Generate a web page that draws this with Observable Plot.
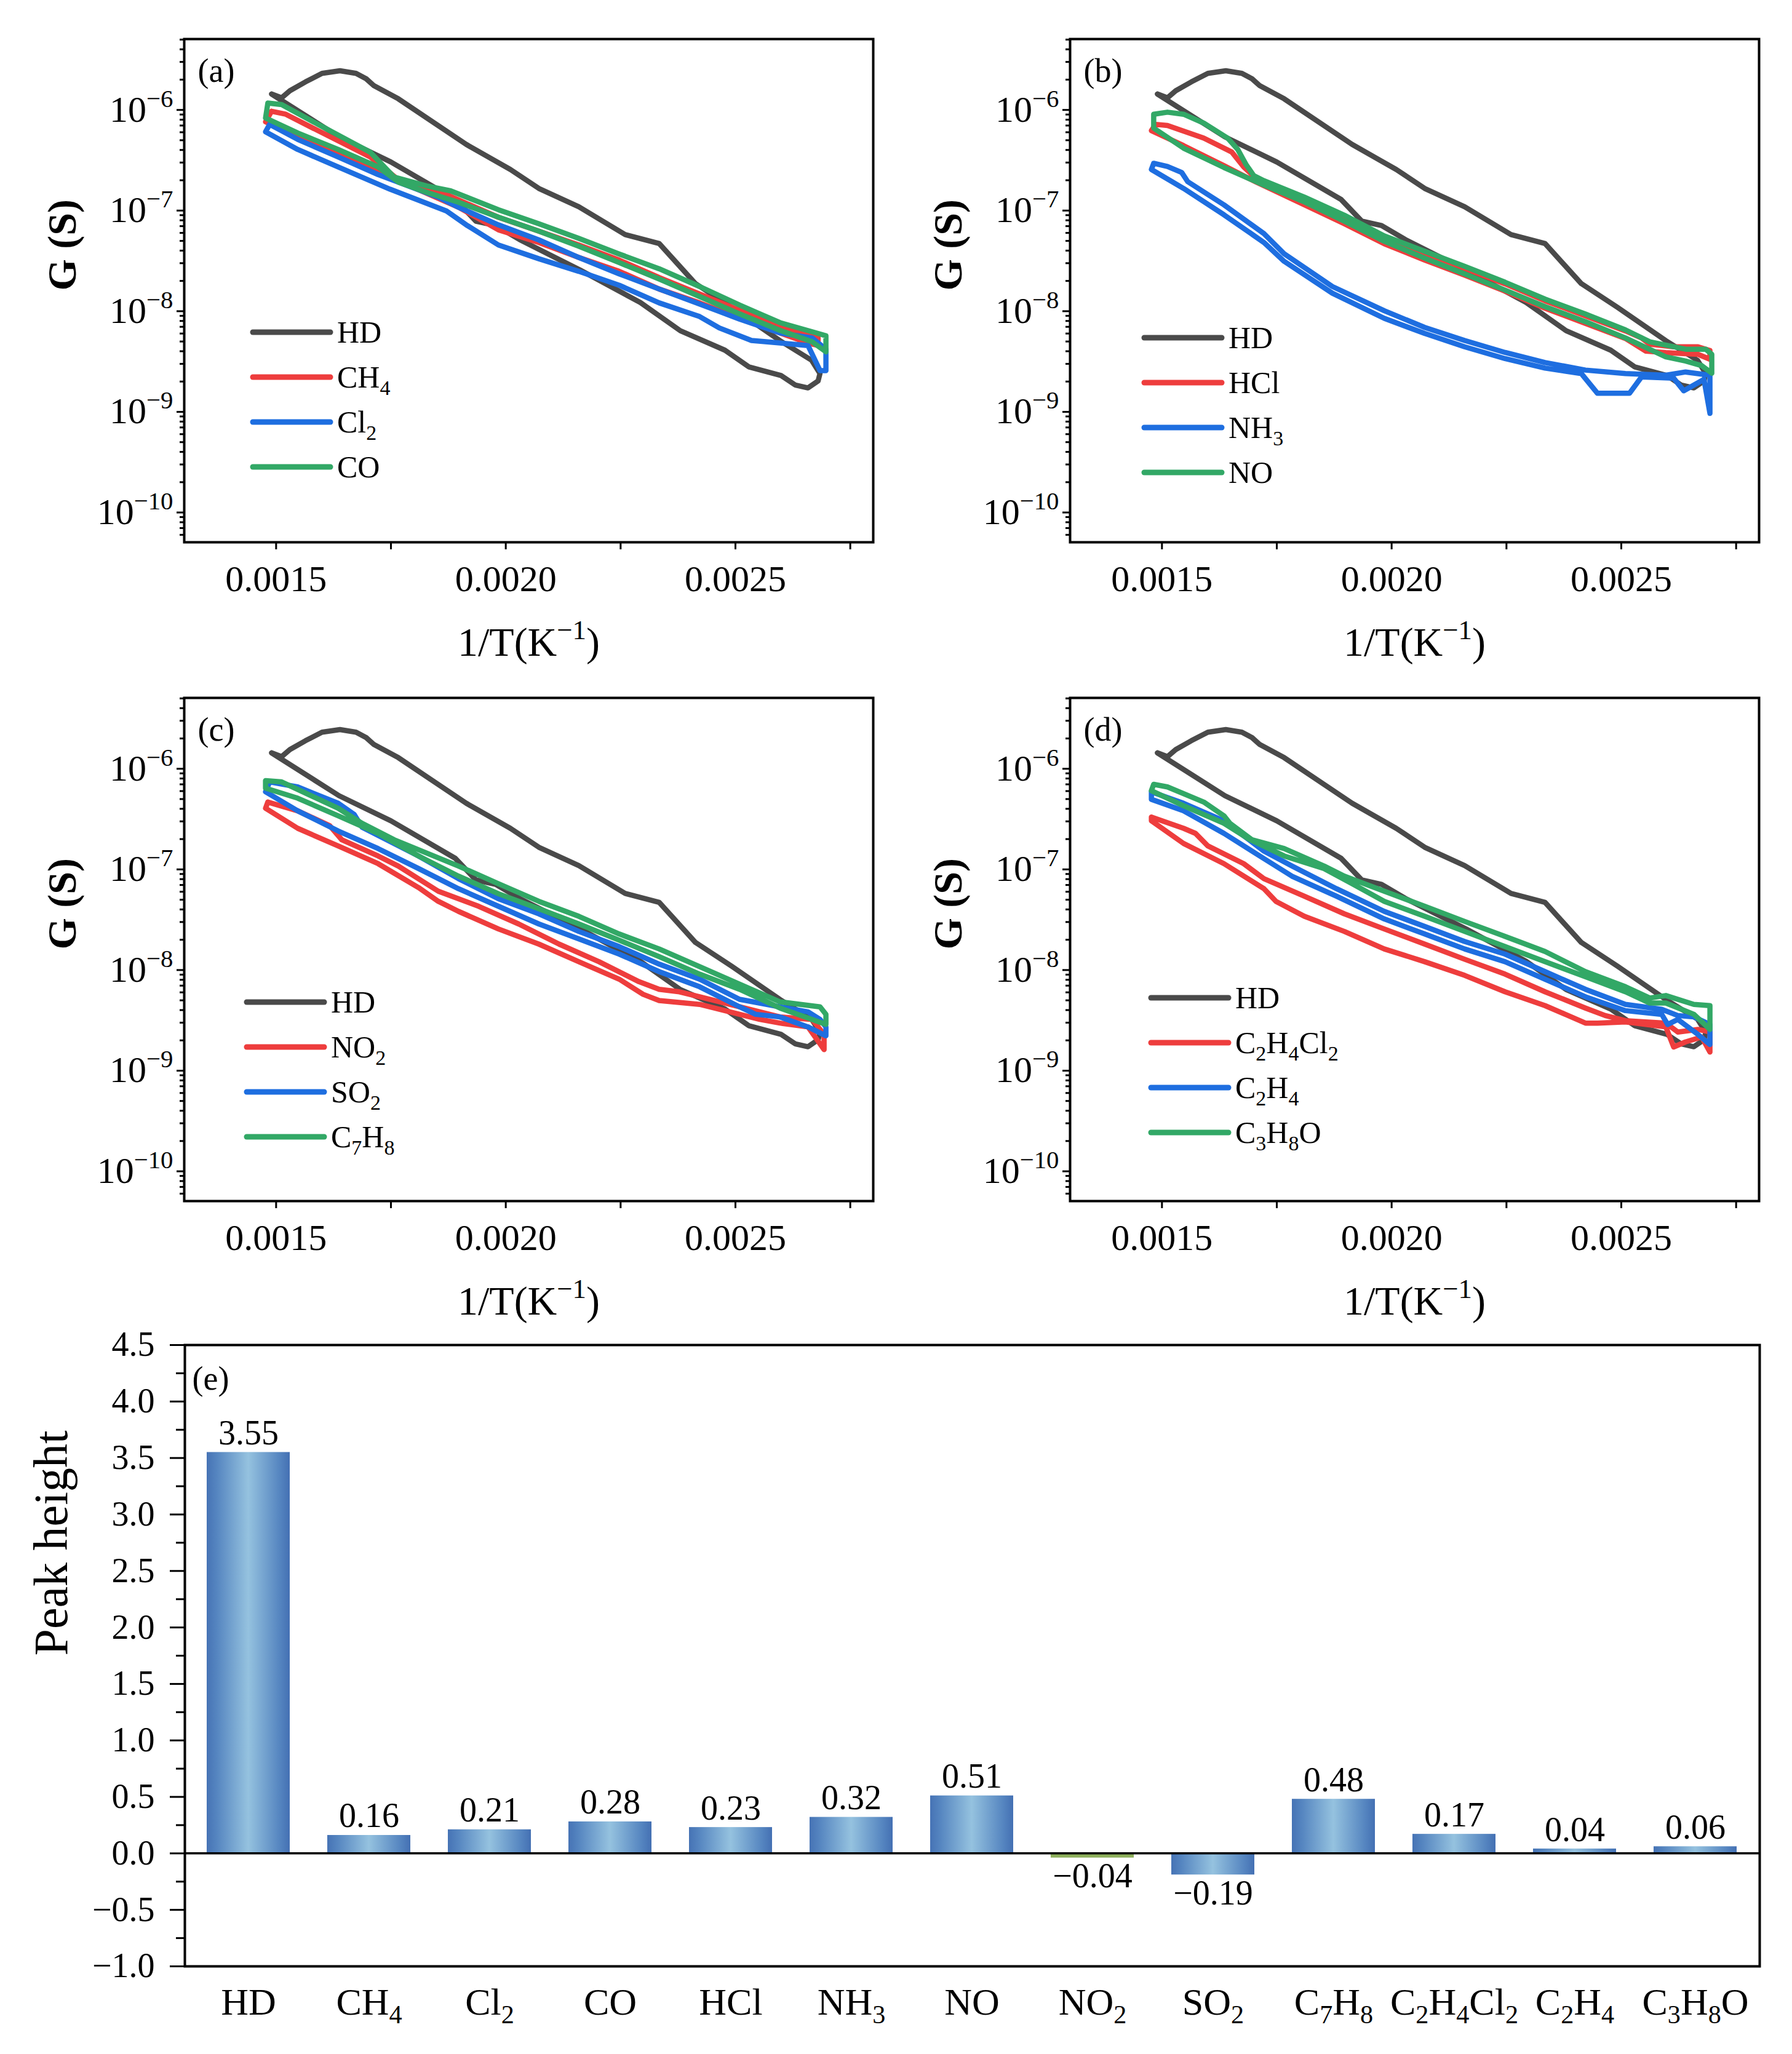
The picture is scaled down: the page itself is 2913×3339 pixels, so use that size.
<!DOCTYPE html>
<html>
<head>
<meta charset="utf-8">
<script src="https://cdn.jsdelivr.net/npm/d3@7"></script>
<script src="https://cdn.jsdelivr.net/npm/@observablehq/plot@0.6"></script>
<style>
html, body { margin: 0; padding: 0; background: #fff; }
#root { position: relative; width: 2913px; height: 3339px; background: #fff; overflow: hidden; }
#root > svg { position: absolute; }
#root [aria-label$="axis tick"] path, #root [aria-label$="axis tick"] line { stroke-width: 3px; }
</style>
</head>
<body>
<div id="root"></div>
<script>
// ---------------- DATA ----------------
// HD (same reference curve in panels a-d)
const HD_invT = [0.001490,0.001512,0.001530,0.001564,0.001600,0.001639,0.001674,0.001696,0.001713,0.001766,0.001914,0.002010,0.002072,0.002159,0.002260,0.002334,0.002413,0.002492,0.002597,0.002666,0.002684,0.002680,0.002658,0.002630,0.002599,0.002529,0.002477,0.002380,0.002293,0.002162,0.002030,0.001978,0.001935,0.001890,0.001750,0.001637,0.001490];
const HD_G = [1.44e-6,1.32e-6,1.55e-6,1.90e-6,2.31e-6,2.45e-6,2.31e-6,2.04e-6,1.74e-6,1.29e-6,4.54e-7,2.56e-7,1.66e-7,1.09e-7,5.77e-8,4.70e-8,1.88e-8,1.09e-8,5.1e-9,3.25e-9,2.4e-9,2.03e-9,1.73e-9,1.85e-9,2.3e-9,2.8e-9,4.1e-9,6.4e-9,1.22e-8,2.56e-8,5.15e-8,7.1e-8,7.85e-8,1.29e-7,3.04e-7,5.4e-7,1.44e-6];

// panel (a)
const CH4_invT = [0.001490,0.001521,0.001591,0.001705,0.001766,0.001871,0.001984,0.002072,0.002159,0.002247,0.002334,0.002422,0.002509,0.002597,0.002658,0.002680, 0.002680,0.002658,0.002597,0.002509,0.002422,0.002334,0.002247,0.002159,0.002072,0.001984,0.001897,0.001810,0.001722,0.001635,0.001547,0.001477,0.001490];
const CH4_G = [9.7e-7,9.06e-7,6.23e-7,3.41e-7,2.03e-7,1.44e-7,8.57e-8,6.25e-8,4.55e-8,3.22e-8,2.16e-8,1.48e-8,1.02e-8,7.23e-9,5.74e-9,5.42e-9, 4.56e-9,4.83e-9,6.08e-9,8.59e-9,1.21e-8,1.66e-8,2.49e-8,3.42e-8,4.82e-8,6.43e-8,1.08e-7,1.61e-7,2.41e-7,3.61e-7,5.40e-7,7.62e-7,9.7e-7];
const Cl2_invT = [0.001486,0.001547,0.001635,0.001722,0.001853,0.001897,0.001984,0.002072,0.002159,0.002247,0.002334,0.002422,0.002509,0.002597,0.002667,0.002697, 0.002697,0.002684,0.002658,0.002597,0.002535,0.002465,0.002422,0.002334,0.002247,0.002159,0.002072,0.001984,0.001914,0.001871,0.001748,0.001635,0.001547,0.001477,0.001486];
const Cl2_G = [7.19e-7,5.10e-7,3.41e-7,2.28e-7,1.36e-7,1.08e-7,7.21e-8,5.11e-8,3.42e-8,2.35e-8,1.66e-8,1.18e-8,8.35e-9,6.08e-9,5.42e-9,4.19e-9, 2.57e-9,2.57e-9,4.56e-9,4.83e-9,5.12e-9,6.82e-9,8.85e-9,1.21e-8,1.81e-8,2.49e-8,3.32e-8,4.55e-8,7.21e-8,9.9e-8,1.63e-7,2.71e-7,4.05e-7,6.06e-7,7.19e-7];
const CO_invT = [0.001482,0.001512,0.001591,0.001705,0.001757,0.001827,0.001880,0.001984,0.002072,0.002159,0.002247,0.002334,0.002422,0.002509,0.002597,0.002675,0.002697, 0.002697,0.002667,0.002597,0.002509,0.002422,0.002334,0.002247,0.002159,0.002072,0.001984,0.001897,0.001827,0.001766,0.001722,0.001635,0.001547,0.001477,0.001482];
const CO_G = [1.17e-6,1.13e-6,7.2e-7,3.8e-7,2.15e-7,1.76e-7,1.57e-7,1.02e-7,7.4e-8,5.3e-8,3.7e-8,2.64e-8,1.76e-8,1.15e-8,7.7e-9,6.1e-9,5.7e-9, 3.95e-9,4.97e-9,6.45e-9,9.4e-9,1.4e-8,2.09e-8,3.04e-8,4.42e-8,6.25e-8,8.6e-8,1.21e-7,1.52e-7,1.92e-7,2.71e-7,4.05e-7,5.9e-7,8.3e-7,1.17e-6];

// panel (b)
const HCl_invT = [0.001486,0.001512,0.001591,0.001652,0.001678,0.001705,0.001810,0.001897,0.001984,0.002072,0.002159,0.002247,0.002334,0.002422,0.002509,0.002544,0.002562,0.002614,0.002667,0.002693, 0.002693,0.002667,0.002597,0.002553,0.002509,0.002422,0.002334,0.002247,0.002159,0.002072,0.001984,0.001897,0.001810,0.001705,0.001635,0.001547,0.001477,0.001486];
const HCl_G = [7.19e-7,7.0e-7,5.25e-7,3.82e-7,2.71e-7,2.09e-7,1.28e-7,8.57e-8,5.41e-8,3.79e-8,2.66e-8,1.87e-8,1.27e-8,8.99e-9,6.37e-9,5.42e-9,4.7e-9,4.43e-9,4.43e-9,4.07e-9, 3.33e-9,3.73e-9,3.88e-9,4.02e-9,5.36e-9,7.55e-9,1.07e-8,1.58e-8,2.28e-8,3.22e-8,4.68e-8,7.4e-8,1.14e-7,1.92e-7,2.79e-7,4.42e-7,6.23e-7,7.19e-7];
const NH3_invT = [0.001482,0.001512,0.001543,0.001556,0.001635,0.001722,0.001766,0.001871,0.001984,0.002072,0.002159,0.002247,0.002334,0.002422,0.002509,0.002597,0.002640,0.002693, 0.002693,0.002680,0.002636,0.002614,0.002544,0.002518,0.002448,0.002413,0.002334,0.002247,0.002159,0.002072,0.001984,0.001871,0.001766,0.001722,0.001635,0.001547,0.001477,0.001482];
const NH3_G = [2.95e-7,2.74e-7,2.39e-7,1.94e-7,1.14e-7,5.9e-8,3.72e-8,1.76e-8,1.01e-8,6.9e-9,5.12e-9,3.89e-9,3.09e-9,2.6e-9,2.40e-9,2.31e-9,2.49e-9,2.31e-9, 9.66e-10,2.10e-9,1.62e-9,2.16e-9,2.22e-9,1.53e-9,1.53e-9,2.40e-9,2.72e-9,3.38e-9,4.43e-9,6.01e-9,8.49e-9,1.51e-8,3.13e-8,4.82e-8,9.08e-8,1.66e-7,2.56e-7,2.95e-7];
const NO_invT = [0.001482,0.001512,0.001547,0.001591,0.001643,0.001665,0.001683,0.001700,0.001722,0.001810,0.001897,0.001984,0.002072,0.002159,0.002247,0.002334,0.002422,0.002509,0.002562,0.002640,0.002684,0.002697, 0.002697,0.002675,0.002640,0.002597,0.002509,0.002422,0.002334,0.002247,0.002159,0.002072,0.001984,0.001897,0.001810,0.001722,0.001635,0.001547,0.001482,0.001482];
const NO_G = [9.06e-7,9.5e-7,9.06e-7,7.4e-7,5.25e-7,4.05e-7,2.87e-7,2.22e-7,1.98e-7,1.36e-7,9.0e-8,5.6e-8,3.94e-8,2.79e-8,1.94e-8,1.32e-8,9.37e-9,6.52e-9,4.97e-9,4.19e-9,4.19e-9,3.73e-9, 2.42e-9,2.88e-9,3.2e-9,3.52e-9,5.42e-9,7.87e-9,1.11e-8,1.62e-8,2.35e-8,3.37e-8,4.96e-8,7.85e-8,1.22e-7,1.79e-7,2.68e-7,4.17e-7,6.6e-7,9.06e-7];

// panel (c)
const NO2_invT = [0.001482,0.001547,0.001617,0.001643,0.001722,0.001766,0.001853,0.001941,0.002028,0.002116,0.002203,0.002290,0.002334,0.002378,0.002422,0.002509,0.002597,0.002667,0.002693, 0.002693,0.002658,0.002597,0.002553,0.002509,0.002422,0.002334,0.002299,0.002247,0.002159,0.002072,0.001984,0.001897,0.001853,0.001810,0.001722,0.001635,0.001547,0.001477,0.001482];
const NO2_G = [4.67e-7,3.82e-7,2.71e-7,1.97e-7,1.36e-7,1.08e-7,6.07e-8,4.30e-8,2.87e-8,1.81e-8,1.21e-8,7.66e-9,6.44e-9,6.08e-9,5.42e-9,4.31e-9,3.42e-9,3.23e-9,2.29e-9, 1.62e-9,2.72e-9,2.97e-9,3.23e-9,3.63e-9,4.56e-9,4.97e-9,5.74e-9,8.11e-9,1.21e-8,1.81e-8,2.56e-8,3.83e-8,4.82e-8,6.6e-8,1.14e-7,1.71e-7,2.56e-7,4.05e-7,4.67e-7];
const SO2_invT = [0.001486,0.001547,0.001635,0.001670,0.001687,0.001810,0.001897,0.001984,0.002072,0.002159,0.002247,0.002334,0.002422,0.002509,0.002597,0.002658,0.002684,0.002697, 0.002697,0.002658,0.002597,0.002544,0.002509,0.002422,0.002334,0.002247,0.002159,0.002072,0.001984,0.001897,0.001810,0.001722,0.001635,0.001547,0.001477,0.001486];
const SO2_G = [7.4e-7,6.6e-7,4.54e-7,3.51e-7,2.63e-7,1.36e-7,8.09e-8,5.11e-8,3.62e-8,2.42e-8,1.71e-8,1.145e-8,8.11e-9,5.12e-9,4.31e-9,3.84e-9,3.23e-9,2.72e-9, 2.22e-9,2.72e-9,3.42e-9,3.63e-9,4.31e-9,6.82e-9,9.64e-9,1.44e-8,2.04e-8,2.87e-8,4.30e-8,6.43e-8,1.02e-7,1.61e-7,2.41e-7,3.82e-7,5.9e-7,7.4e-7];
const C7H8_invT = [0.001477,0.001512,0.001635,0.001687,0.001757,0.001897,0.001984,0.002072,0.002159,0.002247,0.002334,0.002422,0.002509,0.002597,0.002684,0.002697, 0.002697,0.002667,0.002597,0.002509,0.002422,0.002334,0.002247,0.002159,0.002072,0.001984,0.001897,0.001810,0.001722,0.001635,0.001547,0.001477,0.001477];
const C7H8_G = [7.62e-7,7.4e-7,4.05e-7,2.87e-7,1.97e-7,1.08e-7,7.21e-8,4.82e-8,3.42e-8,2.28e-8,1.62e-8,1.08e-8,7.23e-9,4.83e-9,4.31e-9,3.63e-9, 2.88e-9,3.23e-9,4.19e-9,6.44e-9,9.10e-9,1.36e-8,1.98e-8,2.87e-8,4.06e-8,5.73e-8,8.57e-8,1.36e-7,2.28e-7,3.41e-7,5.10e-7,6.41e-7,7.62e-7];

// panel (d)
const C2H4Cl2_invT = [0.001477,0.001547,0.001573,0.001600,0.001678,0.001722,0.001810,0.001897,0.001984,0.002072,0.002159,0.002247,0.002334,0.002422,0.002465,0.002509,0.002597,0.002623,0.002667,0.002693, 0.002693,0.002675,0.002640,0.002614,0.002597,0.002509,0.002448,0.002422,0.002378,0.002334,0.002247,0.002159,0.002072,0.001984,0.001897,0.001810,0.001748,0.001722,0.001635,0.001547,0.001477,0.001477];
const C2H4Cl2_G = [3.31e-7,2.56e-7,2.28e-7,1.71e-7,1.14e-7,8.09e-8,5.41e-8,3.62e-8,2.56e-8,1.81e-8,1.28e-8,9.10e-9,6.08e-9,4.19e-9,3.53e-9,3.14e-9,2.97e-9,2.42e-9,2.57e-9,2.42e-9, 1.53e-9,2.16e-9,1.93e-9,1.72e-9,2.72e-9,3.05e-9,2.97e-9,2.97e-9,3.63e-9,4.43e-9,6.08e-9,8.85e-9,1.21e-8,1.62e-8,2.42e-8,3.42e-8,4.82e-8,6.43e-8,1.14e-7,1.81e-7,3.04e-7,3.31e-7];
const C2H4_invT = [0.001477,0.001547,0.001635,0.001722,0.001783,0.001880,0.001984,0.002072,0.002159,0.002247,0.002334,0.002422,0.002509,0.002588,0.002623,0.002658,0.002693, 0.002693,0.002667,0.002623,0.002601,0.002588,0.002509,0.002422,0.002334,0.002247,0.002159,0.002072,0.001984,0.001880,0.001783,0.001722,0.001635,0.001547,0.001477,0.001477];
const C2H4_G = [5.9e-7,4.54e-7,3.04e-7,1.52e-7,1.08e-7,6.43e-8,3.83e-8,2.71e-8,1.92e-8,1.44e-8,9.64e-9,6.44e-9,4.56e-9,4.07e-9,3.53e-9,3.42e-9,2.88e-9, 1.82e-9,2.29e-9,3.23e-9,2.88e-9,3.63e-9,3.95e-9,5.42e-9,8.11e-9,1.21e-8,1.62e-8,2.28e-8,3.22e-8,5.41e-8,8.57e-8,1.28e-7,2.28e-7,3.82e-7,4.97e-7,5.9e-7];
const C3H8O_invT = [0.001482,0.001512,0.001591,0.001635,0.001648,0.001696,0.001766,0.001853,0.001897,0.001984,0.002072,0.002159,0.002247,0.002334,0.002422,0.002509,0.002562,0.002597,0.002658,0.002693, 0.002693,0.002658,0.002597,0.002562,0.002509,0.002422,0.002334,0.002247,0.002159,0.002072,0.001984,0.001914,0.001853,0.001766,0.001687,0.001635,0.001547,0.001477,0.001482];
const C3H8O_G = [7.0e-7,6.6e-7,4.67e-7,3.41e-7,2.87e-7,1.97e-7,1.61e-7,1.08e-7,8.57e-8,6.07e-8,4.30e-8,3.04e-8,2.16e-8,1.53e-8,9.64e-9,6.82e-9,5.27e-9,5.58e-9,4.56e-9,4.43e-9, 2.57e-9,3.63e-9,4.7e-9,4.7e-9,6.08e-9,8.59e-9,1.21e-8,1.71e-8,2.42e-8,3.42e-8,4.82e-8,7.21e-8,1.02e-7,1.36e-7,2.03e-7,2.87e-7,4.29e-7,6.06e-7,7.0e-7];

// panel (e)
const gases = ["HD","CH_{4}","Cl_{2}","CO","HCl","NH_{3}","NO","NO_{2}","SO_{2}","C_{7}H_{8}","C_{2}H_{4}Cl_{2}","C_{2}H_{4}","C_{3}H_{8}O"];
const peakHeight = [3.55,0.16,0.21,0.28,0.23,0.32,0.51,-0.04,-0.19,0.48,0.17,0.04,0.06];

// ticks
const xTicksMajor = [0.0015, 0.0020, 0.0025];
const xTicksMinor = [0.00175, 0.00225, 0.00275];
const yTicksMajor = [1e-10, 1e-9, 1e-8, 1e-7, 1e-6];
const yTickLabels = ["10^{−10}", "10^{−9}", "10^{−8}", "10^{−7}", "10^{−6}"];
const barTicksMajor = [-1, -0.5, 0, 0.5, 1, 1.5, 2, 2.5, 3, 3.5, 4, 4.5];
const barTicksMinor = [-0.75, -0.25, 0.25, 0.75, 1.25, 1.75, 2.25, 2.75, 3.25, 3.75, 4.25];

// ---------------- STYLE ----------------
const FONT = '"Liberation Serif", "Times New Roman", serif';
const C = {hd: "#4a4a4a", red: "#ee3d3d", blue: "#1e6ee0", green: "#32a866"};

const yMinor = [];
for (let e = -11; e <= -6; e++) for (let k = 2; k <= 9; k++) { const v = k * Math.pow(10, e); if (v > 5.06e-11 && v < 5.06e-6) yMinor.push(v); }

function series(name, label, invT, G, color) {
  if (invT.length !== G.length) console.warn("length mismatch", name, invT.length, G.length);
  return {name, label, color, rows: invT.map((t, i) => ({t, g: G[i]}))};
}

function legendMark(items, x0, y0) {
  return (index, scales, values, dims) => {
    const g = d3.create("svg:g");
    items.forEach((it, i) => {
      const y = dims.marginTop + y0 + i * 73;
      const x = dims.marginLeft + x0;
      g.append("line").attr("x1", x).attr("x2", x + 126).attr("y1", y).attr("y2", y)
        .attr("stroke", it.color).attr("stroke-width", 9).attr("stroke-linecap", "round");
      g.append("text").attr("x", x + 137).attr("y", y + 17).attr("font-size", 50)
        .attr("text-anchor", "start")
        .attr("font-family", FONT).attr("fill", "#000").text(it.label);
    });
    return g.node();
  };
}

function richify(root) {
  root.querySelectorAll("text").forEach(t => {
    const s = t.textContent;
    if (!/[\^_]\{/.test(s)) return;
    const fs = parseFloat(getComputedStyle(t).fontSize) || 50;
    const parts = [];
    const re = /([\^_])\{([^}]*)\}/g;
    let last = 0, m;
    while ((m = re.exec(s))) {
      if (m.index > last) parts.push({k: "n", s: s.slice(last, m.index)});
      parts.push({k: m[1], s: m[2]});
      last = re.lastIndex;
    }
    if (last < s.length) parts.push({k: "n", s: s.slice(last)});
    while (t.firstChild) t.removeChild(t.firstChild);
    let shift = 0;
    parts.forEach(p => {
      const ts = document.createElementNS("http://www.w3.org/2000/svg", "tspan");
      const target = p.k === "^" ? -0.40 * fs : p.k === "_" ? 0.24 * fs : 0;
      ts.setAttribute("dy", (target - shift).toFixed(2));
      shift = target;
      if (p.k !== "n") ts.setAttribute("font-size", (0.68 * fs).toFixed(1));
      ts.textContent = p.s;
      t.appendChild(ts);
    });
  });
}

const root = document.getElementById("root");

function panel(list, label, left, top, legPos) {
  const marks = [];
  list.forEach(s => marks.push(Plot.line(s.rows, {x: "t", y: "g", stroke: s.color, strokeWidth: 8.5, strokeLinejoin: "round", strokeLinecap: "round"})));
  marks.push(
    Plot.frame({stroke: "#000", strokeWidth: 4}),
    Plot.axisX(xTicksMajor, {tickSize: 12, tickPadding: 25, tickFormat: d3.format(".4f"), fontSize: 60, strokeWidth: 3, label: null}),
    Plot.axisX(xTicksMinor, {tickSize: 12, tickFormat: () => "", strokeWidth: 3, label: null}),
    Plot.axisY(yTicksMajor, {tickSize: 12, tickFormat: () => "", strokeWidth: 3, label: null}),
    Plot.axisY(yMinor, {tickSize: 7, tickFormat: () => "", strokeWidth: 2.5, label: null}),
    Plot.text(yTicksMajor, {y: d => d, frameAnchor: "left", text: (d, i) => yTickLabels[i], textAnchor: "end", lineAnchor: "bottom", dx: -18, dy: 19, fontSize: 60}),
    Plot.text([label], {text: d => d, frameAnchor: "top-left", textAnchor: "start", lineAnchor: "top", dx: 22, dy: 31, fontSize: 54}),
    Plot.text(["1/T(K^{−1})"], {text: d => d, frameAnchor: "bottom", lineAnchor: "bottom", dy: 184, fontSize: 66}),
    Plot.text(["G (S)"], {text: d => d, frameAnchor: "left", rotate: -90, lineAnchor: "bottom", dx: -177, fontSize: 66, fontWeight: "bold"}),
    legendMark(list, legPos[0], legPos[1])
  );
  const chart = Plot.plot({
    width: 1456, height: 1100,
    marginLeft: 299, marginRight: 37, marginTop: 63, marginBottom: 219,
    style: {fontFamily: FONT, fontSize: "60px", color: "#000", background: "transparent", overflow: "visible"},
    x: {domain: [0.0013, 0.0028]},
    y: {type: "log", domain: [5.06e-11, 5.06e-6]},
    marks
  });
  chart.style.left = left + "px";
  chart.style.top = top + "px";
  root.appendChild(chart);
  richify(chart);
}

const HD = series("HD", "HD", HD_invT, HD_G, C.hd);

panel([HD,
  series("CH4", "CH_{4}", CH4_invT, CH4_G, C.red),
  series("Cl2", "Cl_{2}", Cl2_invT, Cl2_G, C.blue),
  series("CO", "CO", CO_invT, CO_G, C.green)], "(a)", 0, 0, [112, 477]);

panel([HD,
  series("HCl", "HCl", HCl_invT, HCl_G, C.red),
  series("NH3", "NH_{3}", NH3_invT, NH3_G, C.blue),
  series("NO", "NO", NO_invT, NO_G, C.green)], "(b)", 1440, 0, [121, 486]);

panel([HD,
  series("NO2", "NO_{2}", NO2_invT, NO2_G, C.red),
  series("SO2", "SO_{2}", SO2_invT, SO2_G, C.blue),
  series("C7H8", "C_{7}H_{8}", C7H8_invT, C7H8_G, C.green)], "(c)", 0, 1071, [102, 495]);

panel([HD,
  series("C2H4Cl2", "C_{2}H_{4}Cl_{2}", C2H4Cl2_invT, C2H4Cl2_G, C.red),
  series("C2H4", "C_{2}H_{4}", C2H4_invT, C2H4_G, C.blue),
  series("C3H8O", "C_{3}H_{8}O", C3H8O_invT, C3H8O_G, C.green)], "(d)", 1440, 1071, [132, 488]);

// ---------------- panel (e) ----------------
const bars = gases.map((g, i) => ({gas: g, v: peakHeight[i]}));
const defsMark = () => {
  const g = d3.create("svg:g");
  const lg = g.append("defs").append("linearGradient").attr("id", "barGrad")
    .attr("x1", "0").attr("x2", "1").attr("y1", "0").attr("y2", "0");
  [[0, "#4673b5"], [0.12, "#5585c0"], [0.5, "#95c2df"], [0.88, "#5585c0"], [1, "#4470b3"]]
    .forEach(([o, c]) => lg.append("stop").attr("offset", o).attr("stop-color", c));
  return g.node();
};
const fmt2 = d3.format(".2f");
const barChart = Plot.plot({
  width: 2913, height: 1239,
  marginLeft: 300, marginRight: 53, marginTop: 86, marginBottom: 143,
  style: {fontFamily: FONT, fontSize: "56px", color: "#000", background: "transparent", overflow: "visible"},
  x: {domain: gases, paddingInner: 0.31, paddingOuter: 0.155, align: 0.5, axis: null},
  y: {domain: [-1, 4.5]},
  marks: [
    defsMark,
    Plot.barY(bars.filter(d => d.gas !== "NO_{2}"), {x: "gas", y: "v", fill: "url(#barGrad)", inset: 0}),
    Plot.barY(bars.filter(d => d.gas === "NO_{2}"), {x: "gas", y: "v", fill: "#8daf5b", inset: 0}),
    Plot.ruleY([0], {stroke: "#000", strokeWidth: 3.5}),
    Plot.frame({stroke: "#000", strokeWidth: 4}),
    Plot.axisY(barTicksMajor, {tickSize: 24, tickPadding: 25, tickFormat: d3.format(".1f"), fontSize: 56, strokeWidth: 3, label: null}),
    Plot.axisY(barTicksMinor, {tickSize: 14, tickFormat: () => "", strokeWidth: 3, label: null}),
    Plot.text(bars.filter(d => d.v >= 0), {x: "gas", y: "v", text: d => fmt2(d.v), lineAnchor: "bottom", dy: -13, fontSize: 56}),
    Plot.text(bars.filter(d => d.v < 0), {x: "gas", y: "v", text: d => fmt2(d.v), lineAnchor: "bottom", dy: 48, fontSize: 56}),
    Plot.text(bars, {x: "gas", frameAnchor: "bottom", text: "gas", lineAnchor: "bottom", dy: 78, fontSize: 62}),
    Plot.text(["(e)"], {text: d => d, frameAnchor: "top-left", textAnchor: "start", lineAnchor: "top", dx: 12, dy: 34, fontSize: 54}),
    Plot.text(["Peak height"], {text: d => d, frameAnchor: "left", rotate: -90, lineAnchor: "bottom", dx: -192, fontSize: 78})
  ]
});
barChart.style.left = "0px";
barChart.style.top = "2100px";
root.appendChild(barChart);
richify(barChart);
</script>
</body>
</html>
